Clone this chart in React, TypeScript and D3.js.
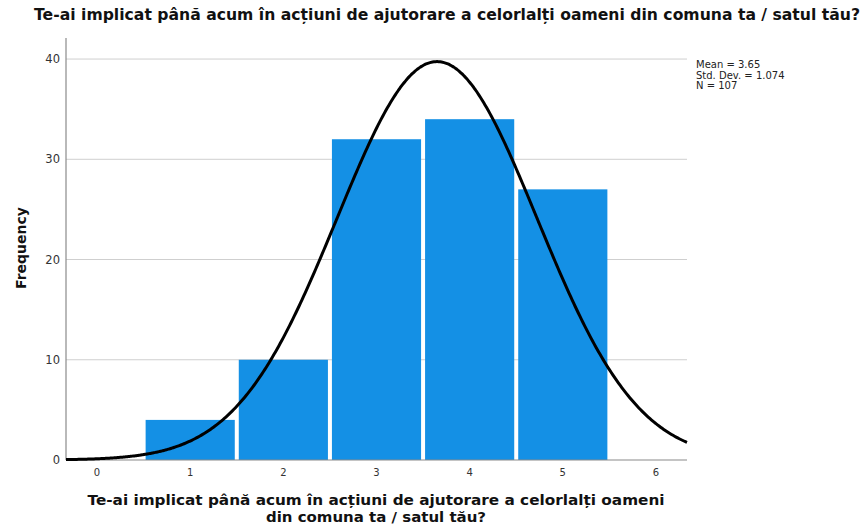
import React from "react";
import * as d3 from "d3";

const categories = [1, 2, 3, 4, 5];
const frequencies = [4, 10, 32, 34, 27];
const xTicks = [0, 1, 2, 3, 4, 5, 6];
const yTicks = [0, 10, 20, 30, 40];
const stats = { mean: 3.65, sd: 1.074, n: 107 };
const legendLines = ["Mean = 3.65", "Std. Dev. = 1.074", "N = 107"];
const title = "Te-ai implicat până acum în acțiuni de ajutorare a celorlalți oameni din comuna ta / satul tău?";
const xTitle1 = "Te-ai implicat până acum în acțiuni de ajutorare a celorlalți oameni";
const xTitle2 = "din comuna ta / satul tău?";

export default function App() {
  const W = 863, H = 530;
  const left = 66, right = 687, top = 38, bottom = 460;
  const x = d3.scaleLinear().domain([-1 / 3, 6 + 1 / 3]).range([left, right]);
  const y = d3.scaleLinear().domain([0, 42.1]).range([bottom, top]);

  const pdf = (v: number) =>
    (stats.n / (stats.sd * Math.sqrt(2 * Math.PI))) *
    Math.exp(-0.5 * ((v - stats.mean) / stats.sd) ** 2);
  const pts = d3.range(0, 401).map((i) => -1 / 3 + (i / 400) * (6 + 2 / 3));
  const line = d3
    .line<number>()
    .x((d) => x(d))
    .y((d) => y(pdf(d)))
    .curve(d3.curveBasis);

  const font = "'DejaVu Sans', 'Liberation Sans', sans-serif";

  return (
    <svg width={W} height={H} style={{ position: "absolute", left: 0, top: 0, background: "#fff" }}>
      <rect x={0} y={0} width={W} height={H} fill="#fff" />
      <text
        x={447}
        y={20}
        textAnchor="middle"
        fontFamily={font}
        fontWeight="bold"
        fontSize={15}
        textLength={826}
        lengthAdjust="spacingAndGlyphs"
        fill="#111"
      >
        {title}
      </text>
      {yTicks.filter((t) => t > 0).map((t) => (
        <line key={"g" + t} x1={left} x2={right} y1={y(t)} y2={y(t)} stroke="#cfcfcf" strokeWidth={1} />
      ))}
      {categories.map((c, i) => (
        <rect
          key={c}
          x={x(c - 0.5) + 2}
          width={x(c + 0.5) - x(c - 0.5) - 4}
          y={y(frequencies[i])}
          height={y(0) - y(frequencies[i])}
          fill="#1490E5"
        />
      ))}
      <line x1={left} x2={left} y1={top} y2={bottom} stroke="#8a8a8a" strokeWidth={1.2} />
      <line x1={left} x2={right} y1={bottom} y2={bottom} stroke="#8a8a8a" strokeWidth={1.2} />
      <path d={line(pts) || ""} fill="none" stroke="#000" strokeWidth={3} />
      {yTicks.map((t) => (
        <text key={"yt" + t} x={left - 6} y={y(t) + 4} textAnchor="end" fontFamily={font} fontSize={11.5} fill="#333">
          {t}
        </text>
      ))}
      {xTicks.map((t) => (
        <text key={"xt" + t} x={x(t)} y={476} textAnchor="middle" fontFamily={font} fontSize={10} fill="#333">
          {t}
        </text>
      ))}
      <text
        transform={`translate(26,${248}) rotate(-90)`}
        textAnchor="middle"
        fontFamily={font}
        fontWeight="bold"
        fontSize={14}
        fill="#111"
      >
        Frequency
      </text>
      <text x={376} y={505} textAnchor="middle" fontFamily={font} fontWeight="bold" fontSize={14} textLength={577} lengthAdjust="spacingAndGlyphs" fill="#111">
        {xTitle1}
      </text>
      <text x={376} y={522} textAnchor="middle" fontFamily={font} fontWeight="bold" fontSize={14} textLength={220} lengthAdjust="spacingAndGlyphs" fill="#111">
        {xTitle2}
      </text>
      {legendLines.map((s, i) => (
        <text key={s} x={696} y={68 + i * 10.5} fontFamily={font} fontSize={10} fill="#222">
          {s}
        </text>
      ))}
    </svg>
  );
}
